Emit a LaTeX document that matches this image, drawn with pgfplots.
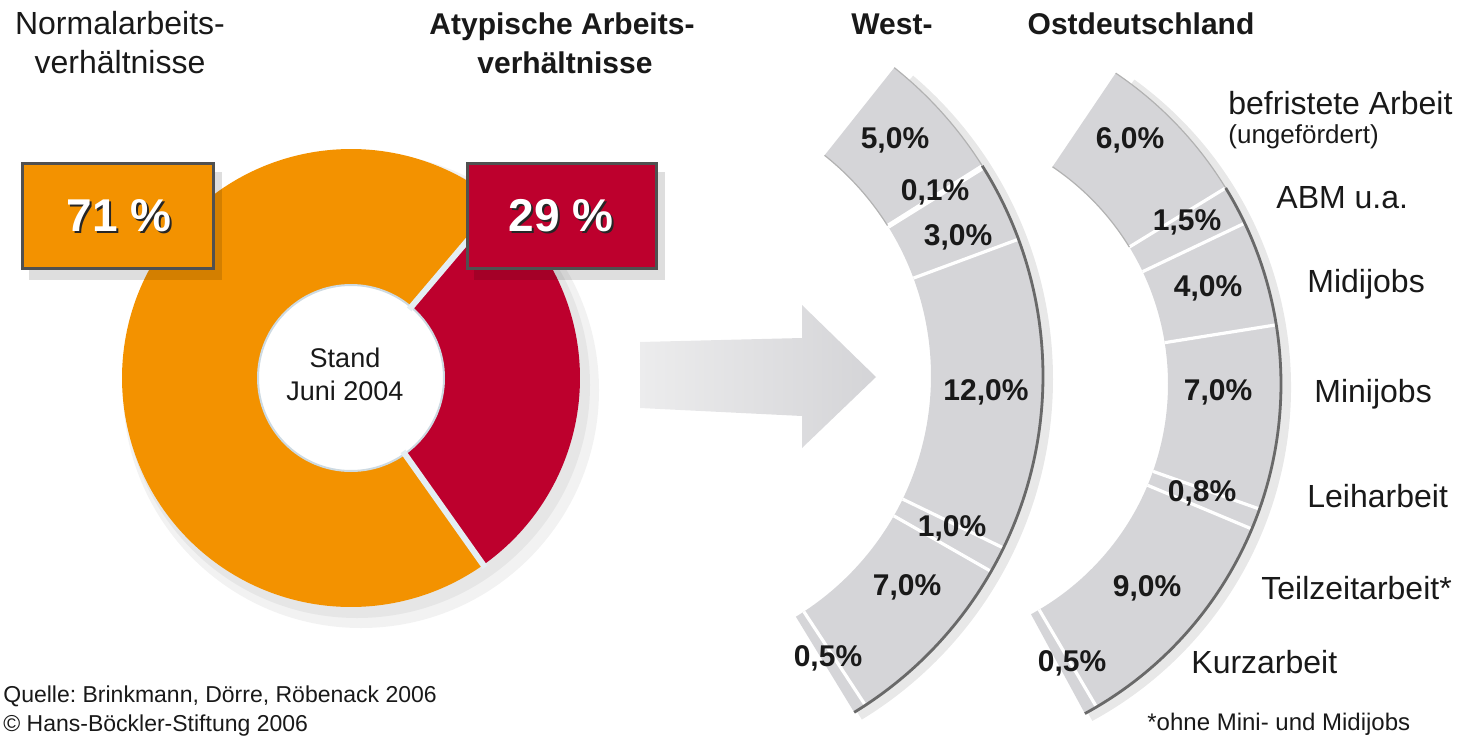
\documentclass[border=0pt]{standalone}
\usepackage{pgfplots}
\pgfplotsset{compat=1.18}
\usepackage{pgfplotstable}
\usepackage{fontspec}
\setmainfont{Liberation Sans}
\frenchspacing

\definecolor{normorange}{RGB}{243,146,0}
\definecolor{atypred}{RGB}{189,0,45}
\definecolor{bandgray}{RGB}{213,213,216}
\definecolor{edgegray}{RGB}{105,105,105}
\definecolor{boxframe}{RGB}{80,80,80}
\definecolor{txt}{RGB}{25,25,25}
\definecolor{gapblue}{RGB}{228,238,243}
\definecolor{holeedge}{RGB}{205,218,226}
\definecolor{arrowleft}{RGB}{236,236,237}
\definecolor{arrowright}{RGB}{212,212,215}

% shares of all employment (Stand Juni 2004)
\pgfplotstableread{
part share
Normal 71
Atypisch 29
}\donutdata

% Westdeutschland, top to bottom; lx ly = label position (px)
\pgfplotstableread{
value lx ly
5.0 895 140
0.1 935 192
3.0 958 237
12.0 986 392
1.0 952 528
7.0 907 587
0.5 828 658
}\westdata

% Ostdeutschland
\pgfplotstableread{
value lx ly
6.0 1130 140
1.5 1187 222
4.0 1208 288
7.0 1218 392
0.8 1202 493
9.0 1147 588
0.5 1072 663
}\ostdata

\newcommand{\ringsector}[7]{% cx cy rin rout a1 a2 options
  \pgfmathsetmacro{\Xa}{#1+#4*cos(#5)}%
  \pgfmathsetmacro{\Ya}{#2-#4*sin(#5)}%
  \pgfmathsetmacro{\Xb}{#1+#3*cos(#6)}%
  \pgfmathsetmacro{\Yb}{#2-#3*sin(#6)}%
  \pgfmathsetmacro{\Ro}{#4*0.5}%
  \pgfmathsetmacro{\Ri}{#3*0.5}%
  \pgfmathsetmacro{\Aa}{#5}\pgfmathsetmacro{\Ab}{#6}%
  \edef\temp{\noexpand\path[#7] (axis cs:\Xa,\Ya) arc[start angle=\Aa, end angle=\Ab, radius=\Ro pt] -- (axis cs:\Xb,\Yb) arc[start angle=\Ab, end angle=\Aa, radius=\Ri pt] -- cycle;}%
  \temp
}
\newcommand{\radialline}[6]{% cx cy rin rout a options
  \pgfmathsetmacro{\Xa}{#1+#3*cos(#5)}%
  \pgfmathsetmacro{\Ya}{#2-#3*sin(#5)}%
  \pgfmathsetmacro{\Xb}{#1+#4*cos(#5)}%
  \pgfmathsetmacro{\Yb}{#2-#4*sin(#5)}%
  \edef\temp{\noexpand\draw[#6] (axis cs:\Xa,\Ya) -- (axis cs:\Xb,\Yb);}%
  \temp
}
\newcommand{\arcline}[6]{% cx cy r a1 a2 options
  \pgfmathsetmacro{\Xa}{#1+#3*cos(#4)}%
  \pgfmathsetmacro{\Ya}{#2-#3*sin(#4)}%
  \pgfmathsetmacro{\Rr}{#3*0.5}%
  \pgfmathsetmacro{\Aa}{#4}\pgfmathsetmacro{\Ab}{#5}%
  \edef\temp{\noexpand\draw[#6] (axis cs:\Xa,\Ya) arc[start angle=\Aa, end angle=\Ab, radius=\Rr pt];}%
  \temp
}
\newcommand{\drawband}[7]{% table cx cy rin rout startangle deg-per-percent
  \pgfmathsetmacro{\bandtot}{0}%
  \pgfplotsforeachungrouped \i in {0,...,6}{%
    \pgfplotstablegetelem{\i}{value}\of#1%
    \pgfmathsetmacro{\bandtot}{\bandtot+\pgfplotsretval}}%
  \pgfmathsetmacro{\bandend}{#6-#7*\bandtot}%
  \pgfplotstablegetelem{0}{value}\of#1%
  \pgfmathsetmacro{\firstend}{#6-#7*\pgfplotsretval}%
  \arcline{#2+5}{#3+3}{#5}{#6-2}{\bandend}{black!9, line width=5pt}%
  \pgfmathsetmacro{\cum}{0}%
  \pgfplotsforeachungrouped \i in {0,...,6}{%
    \pgfplotstablegetelem{\i}{value}\of#1%
    \pgfmathsetmacro{\aA}{#6-#7*\cum}%
    \pgfmathsetmacro{\cum}{\cum+\pgfplotsretval}%
    \pgfmathsetmacro{\aB}{#6-#7*\cum}%
    \ringsector{#2}{#3}{#4}{#5}{\aA}{\aB}{fill=bandgray}%
  }%
  \pgfmathsetmacro{\cum}{0}%
  \pgfplotsforeachungrouped \i in {0,...,5}{%
    \pgfplotstablegetelem{\i}{value}\of#1%
    \pgfmathsetmacro{\cum}{\cum+\pgfplotsretval}%
    \pgfmathsetmacro{\aB}{#6-#7*\cum}%
    \radialline{#2}{#3}{#4}{#5}{\aB}{white, line width=1.6pt}%
  }%
  \arcline{#2}{#3}{#5}{\firstend}{\bandend}{edgegray, line width=1.4pt}%
  \arcline{#2}{#3}{#5}{#6}{\firstend}{black!30, line width=0.6pt}%
  \arcline{#2}{#3}{#4}{#6}{\firstend}{black!30, line width=0.6pt}%
}

\begin{document}
\begin{tikzpicture}
\begin{axis}[
  width=733pt, height=369pt, scale only axis,
  xmin=0, xmax=1466, ymin=0, ymax=738, y dir=reverse,
  hide axis, clip=false,
]
% ---------- donut ----------
\path[fill=black, opacity=0.05] (axis cs:361,390) circle[radius=119pt];
\path[fill=black, opacity=0.05] (axis cs:357,385) circle[radius=116.5pt];
\pgfplotstablegetelem{0}{share}\of\donutdata \pgfmathsetmacro{\orspan}{\pgfplotsretval*3.6}
\pgfplotstablegetelem{1}{share}\of\donutdata \pgfmathsetmacro{\rdspan}{\pgfplotsretval*3.6}
\pgfmathsetmacro{\rdA}{-2.5-\rdspan/2}
\pgfmathsetmacro{\rdB}{\rdA+\rdspan}
\pgfmathsetmacro{\orB}{\rdB+\orspan}
\ringsector{351}{378}{93}{229}{\rdB}{\orB}{fill=normorange}
\ringsector{351}{378}{93}{229}{\rdA}{\rdB}{fill=atypred}
\path[fill=white, draw=holeedge, line width=1pt] (axis cs:351,378) circle[radius=46.5pt];
\radialline{351}{378}{90}{232}{\rdA}{gapblue, line width=3pt}
\radialline{351}{378}{90}{232}{\rdB}{gapblue, line width=3pt}

\node[anchor=base, inner sep=0, text=txt, font=\fontsize{13.5}{13.5}\selectfont] at (axis cs:345,367) {Stand};
\node[anchor=base, inner sep=0, text=txt, font=\fontsize{13.5}{13.5}\selectfont] at (axis cs:345,400) {Juni 2004};

% ---------- boxes ----------
\path[fill=black, opacity=0.13] (axis cs:29,172) rectangle (axis cs:222,280);
\path[fill=normorange, draw=boxframe, line width=1.5pt] (axis cs:22,163) rectangle (axis cs:213,268);
\path[fill=black, opacity=0.13] (axis cs:474,172) rectangle (axis cs:665,280);
\path[fill=atypred, draw=boxframe, line width=1.5pt] (axis cs:467,163) rectangle (axis cs:656,268);
\node[anchor=base, inner sep=0, text=black!85, font=\bfseries\fontsize{23}{23}\selectfont] at (axis cs:121,233) {71 \%};
\node[anchor=base, inner sep=0, text=white, font=\bfseries\fontsize{23}{23}\selectfont] at (axis cs:119,231) {71 \%};
\node[anchor=base, inner sep=0, text=black!85, font=\bfseries\fontsize{23}{23}\selectfont] at (axis cs:563,233) {29 \%};
\node[anchor=base, inner sep=0, text=white, font=\bfseries\fontsize{23}{23}\selectfont] at (axis cs:561,231) {29 \%};

% ---------- titles ----------
\node[anchor=base, inner sep=0, text=txt, font=\fontsize{16}{16}\selectfont] at (axis cs:120,35) {Normalarbeits-};
\node[anchor=base, inner sep=0, text=txt, font=\fontsize{16}{16}\selectfont] at (axis cs:120,74) {verhältnisse};
\node[anchor=base, inner sep=0, text=txt, font=\bfseries\fontsize{15}{15}\selectfont] at (axis cs:562,35) {Atypische Arbeits-};
\node[anchor=base, inner sep=0, text=txt, font=\bfseries\fontsize{15}{15}\selectfont] at (axis cs:565,74) {verhältnisse};
\node[anchor=base, inner sep=0, text=txt, font=\bfseries\fontsize{15}{15}\selectfont] at (axis cs:892,35) {West-};
\node[anchor=base, inner sep=0, text=txt, font=\bfseries\fontsize{15}{15}\selectfont] at (axis cs:1141,35) {Ostdeutschland};

% ---------- arrow ----------
\shade[left color=arrowleft, right color=arrowright]
  (axis cs:640,342) -- (axis cs:802,338) -- (axis cs:802,305) -- (axis cs:876,377)
  -- (axis cs:802,448) -- (axis cs:802,416) -- (axis cs:640,408) -- cycle;

% ---------- bands ----------
\drawband{\westdata}{649}{376}{282}{394}{51.5}{3.85}
\drawband{\ostdata}{906}{384}{262}{375}{56}{4.08}

\addplot[only marks, mark=*, mark size=0pt, mark options={draw=none, fill=none},
  point meta=\thisrow{value},
  nodes near coords={\pgfmathprintnumber[fixed, fixed zerofill, precision=1, use comma, assume math mode=true]{\pgfplotspointmeta}\%},
  nodes near coords align={center},
  every node near coord/.append style={font=\bfseries\fontsize{15}{15}\selectfont, text=txt, inner sep=0pt}]
  table[x=lx, y=ly] {\westdata};
\addplot[only marks, mark=*, mark size=0pt, mark options={draw=none, fill=none},
  point meta=\thisrow{value},
  nodes near coords={\pgfmathprintnumber[fixed, fixed zerofill, precision=1, use comma, assume math mode=true]{\pgfplotspointmeta}\%},
  nodes near coords align={center},
  every node near coord/.append style={font=\bfseries\fontsize{15}{15}\selectfont, text=txt, inner sep=0pt}]
  table[x=lx, y=ly] {\ostdata};

% ---------- category labels ----------
\node[anchor=base west, inner sep=0, text=txt, font=\fontsize{16}{16}\selectfont] at (axis cs:1228,115) {befristete Arbeit};
\node[anchor=base west, inner sep=0, text=txt, font=\fontsize{13}{13}\selectfont] at (axis cs:1228,143) {(ungefördert)};
\node[anchor=base west, inner sep=0, text=txt, font=\fontsize{16}{16}\selectfont] at (axis cs:1276,208) {ABM u.a.};
\node[anchor=base west, inner sep=0, text=txt, font=\fontsize{16}{16}\selectfont] at (axis cs:1307,292) {Midijobs};
\node[anchor=base west, inner sep=0, text=txt, font=\fontsize{16}{16}\selectfont] at (axis cs:1314,402) {Minijobs};
\node[anchor=base west, inner sep=0, text=txt, font=\fontsize{16}{16}\selectfont] at (axis cs:1307,507) {Leiharbeit};
\node[anchor=base west, inner sep=0, text=txt, font=\fontsize{16}{16}\selectfont] at (axis cs:1261,599) {Teilzeitarbeit*};
\node[anchor=base west, inner sep=0, text=txt, font=\fontsize{16}{16}\selectfont] at (axis cs:1191,673) {Kurzarbeit};
\node[anchor=base west, inner sep=0, text=txt, font=\fontsize{12}{12}\selectfont] at (axis cs:1147,730) {*ohne Mini- und Midijobs};

% ---------- footer ----------
\node[anchor=base west, inner sep=0, text=txt, font=\fontsize{11.5}{11.5}\selectfont] at (axis cs:3,702) {Quelle: Brinkmann, Dörre, Röbenack 2006};
\node[anchor=base west, inner sep=0, text=txt, font=\fontsize{11.5}{11.5}\selectfont] at (axis cs:3,731) {© Hans-Böckler-Stiftung 2006};
\end{axis}
\pgfresetboundingbox
\path (current axis.south west) rectangle (current axis.north east);
\end{tikzpicture}
\end{document}
